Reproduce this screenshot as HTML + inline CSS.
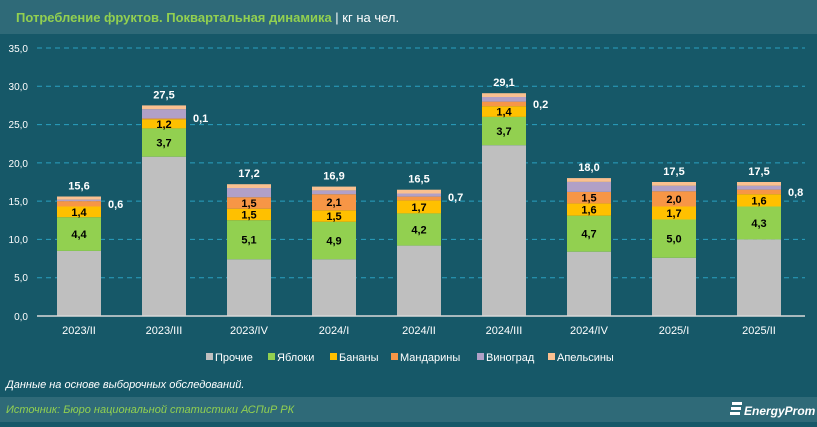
<!DOCTYPE html><html><head><meta charset="utf-8"><style>
body{margin:0;width:817px;height:422px;overflow:hidden;background:#165868;font-family:"Liberation Sans",sans-serif}
</style></head><body>
<svg width="817" height="422" xmlns="http://www.w3.org/2000/svg" font-family="Liberation Sans, sans-serif">
<rect x="0" y="0" width="817" height="34" fill="#2f6a78"/>
<text x="16" y="22" font-size="13" font-weight="bold" fill="#92d050">Потребление фруктов. Поквартальная динамика <tspan fill="#fff" font-weight="normal">| кг на чел.</tspan></text>
<rect x="0" y="397" width="817" height="25" fill="#2f6a78"/>
<g stroke="#2aa0c0" stroke-dasharray="5,4" stroke-width="1">
<line x1="37" x2="805" y1="48" y2="48"/><line x1="37" x2="805" y1="86.3" y2="86.3"/><line x1="37" x2="805" y1="124.6" y2="124.6"/><line x1="37" x2="805" y1="162.9" y2="162.9"/><line x1="37" x2="805" y1="201.1" y2="201.1"/><line x1="37" x2="805" y1="239.4" y2="239.4"/><line x1="37" x2="805" y1="277.7" y2="277.7"/>
</g>
<g font-size="10" fill="#fff" text-anchor="end">
<text x="28" y="52">35,0</text><text x="28" y="90">30,0</text><text x="28" y="128">25,0</text><text x="28" y="167">20,0</text><text x="28" y="205">15,0</text><text x="28" y="243">10,0</text><text x="28" y="281">5,0</text><text x="28" y="320">0,0</text>
</g>
<g>
<rect x="57" y="250.9" width="44" height="65.1" fill="#bfbfbf"/><rect x="57" y="217.2" width="44" height="33.7" fill="#92d050"/><rect x="57" y="206.5" width="44" height="10.7" fill="#ffc000"/><rect x="57" y="201.1" width="44" height="5.4" fill="#f79646"/><rect x="57" y="199.6" width="44" height="1.5" fill="#b1a0c7"/><rect x="57" y="196.5" width="44" height="3.1" fill="#fac090"/>
<rect x="142" y="156.7" width="44" height="159.3" fill="#bfbfbf"/><rect x="142" y="128.4" width="44" height="28.3" fill="#92d050"/><rect x="142" y="119.2" width="44" height="9.2" fill="#ffc000"/><rect x="142" y="118.4" width="44" height="0.8" fill="#f79646"/><rect x="142" y="109.2" width="44" height="9.2" fill="#b1a0c7"/><rect x="142" y="105.4" width="44" height="3.8" fill="#fac090"/>
<rect x="227" y="259.3" width="44" height="56.7" fill="#bfbfbf"/><rect x="227" y="220.2" width="44" height="39.1" fill="#92d050"/><rect x="227" y="208.7" width="44" height="11.5" fill="#ffc000"/><rect x="227" y="197.2" width="44" height="11.5" fill="#f79646"/><rect x="227" y="188" width="44" height="9.2" fill="#b1a0c7"/><rect x="227" y="184.2" width="44" height="3.8" fill="#fac090"/>
<rect x="312" y="259.3" width="44" height="56.7" fill="#bfbfbf"/><rect x="312" y="221.8" width="44" height="37.5" fill="#92d050"/><rect x="312" y="210.3" width="44" height="11.5" fill="#ffc000"/><rect x="312" y="194.2" width="44" height="16.1" fill="#f79646"/><rect x="312" y="190.4" width="44" height="3.8" fill="#b1a0c7"/><rect x="312" y="186.6" width="44" height="3.8" fill="#fac090"/>
<rect x="397" y="245.6" width="44" height="70.4" fill="#bfbfbf"/><rect x="397" y="213.4" width="44" height="32.2" fill="#92d050"/><rect x="397" y="200.4" width="44" height="13" fill="#ffc000"/><rect x="397" y="196.6" width="44" height="3.8" fill="#f79646"/><rect x="397" y="193.5" width="44" height="3.1" fill="#b1a0c7"/><rect x="397" y="189.7" width="44" height="3.8" fill="#fac090"/>
<rect x="482" y="145.2" width="44" height="170.8" fill="#bfbfbf"/><rect x="482" y="116.9" width="44" height="28.3" fill="#92d050"/><rect x="482" y="106.2" width="44" height="10.7" fill="#ffc000"/><rect x="482" y="101.6" width="44" height="4.6" fill="#f79646"/><rect x="482" y="97" width="44" height="4.6" fill="#b1a0c7"/><rect x="482" y="93.2" width="44" height="3.8" fill="#fac090"/>
<rect x="567" y="251.7" width="44" height="64.3" fill="#bfbfbf"/><rect x="567" y="215.7" width="44" height="36" fill="#92d050"/><rect x="567" y="203.4" width="44" height="12.3" fill="#ffc000"/><rect x="567" y="191.9" width="44" height="11.5" fill="#f79646"/><rect x="567" y="181.9" width="44" height="10" fill="#b1a0c7"/><rect x="567" y="178.1" width="44" height="3.8" fill="#fac090"/>
<rect x="652" y="257.8" width="44" height="58.2" fill="#bfbfbf"/><rect x="652" y="219.5" width="44" height="38.3" fill="#92d050"/><rect x="652" y="206.5" width="44" height="13" fill="#ffc000"/><rect x="652" y="191.2" width="44" height="15.3" fill="#f79646"/><rect x="652" y="185.8" width="44" height="5.4" fill="#b1a0c7"/><rect x="652" y="182" width="44" height="3.8" fill="#fac090"/>
<rect x="737" y="239.4" width="44" height="76.6" fill="#bfbfbf"/><rect x="737" y="206.5" width="44" height="32.9" fill="#92d050"/><rect x="737" y="194.2" width="44" height="12.3" fill="#ffc000"/><rect x="737" y="189.6" width="44" height="4.6" fill="#f79646"/><rect x="737" y="185.8" width="44" height="3.8" fill="#b1a0c7"/><rect x="737" y="182" width="44" height="3.8" fill="#fac090"/>
</g>
<line x1="37" x2="805" y1="316" y2="316" stroke="#d9d9d9" stroke-width="1.5"/>
<g font-size="11" font-weight="bold" text-anchor="middle" fill="#000">
<text x="79" y="238">4,4</text><text x="79" y="216">1,4</text>
<text x="164" y="146.6">3,7</text><text x="164" y="127.8">1,2</text>
<text x="249" y="243.7">5,1</text><text x="249" y="218.4">1,5</text><text x="249" y="206.9">1,5</text>
<text x="334" y="244.5">4,9</text><text x="334" y="220">1,5</text><text x="334" y="206.2">2,1</text>
<text x="419" y="233.5">4,2</text><text x="419" y="210.9">1,7</text>
<text x="504" y="135.1">3,7</text><text x="504" y="115.6">1,4</text>
<text x="589" y="237.7">4,7</text><text x="589" y="213.5">1,6</text><text x="589" y="201.6">1,5</text>
<text x="674" y="242.6">5,0</text><text x="674" y="217">1,7</text><text x="674" y="202.8">2,0</text>
<text x="759" y="227">4,3</text><text x="759" y="204.3">1,6</text>
</g>
<g font-size="11" font-weight="bold" text-anchor="middle" fill="#fff">
<text x="79" y="189.5">15,6</text><text x="164" y="98.4">27,5</text><text x="249" y="177.2">17,2</text><text x="334" y="179.6">16,9</text><text x="419" y="182.7">16,5</text><text x="504" y="86.2">29,1</text><text x="589" y="171.1">18,0</text><text x="674" y="175">17,5</text><text x="759" y="175">17,5</text>
</g>
<g font-size="11" font-weight="bold" fill="#fff">
<text x="108" y="208">0,6</text><text x="193" y="122">0,1</text><text x="448" y="201">0,7</text><text x="533" y="108">0,2</text><text x="788" y="196">0,8</text>
</g>
<g font-size="11" text-anchor="middle" fill="#fff">
<text x="79" y="334">2023/II</text><text x="164" y="334">2023/III</text><text x="249" y="334">2023/IV</text><text x="334" y="334">2024/I</text><text x="419" y="334">2024/II</text><text x="504" y="334">2024/III</text><text x="589" y="334">2024/IV</text><text x="674" y="334">2025/I</text><text x="759" y="334">2025/II</text>
</g>
<g font-size="11" fill="#fff">
<rect x="206" y="353" width="7" height="7" fill="#bfbfbf"/><text x="215" y="361">Прочие</text>
<rect x="268" y="353" width="7" height="7" fill="#92d050"/><text x="277" y="361">Яблоки</text>
<rect x="330" y="353" width="7" height="7" fill="#ffc000"/><text x="339" y="361">Бананы</text>
<rect x="391" y="353" width="7" height="7" fill="#f79646"/><text x="400" y="361">Мандарины</text>
<rect x="477" y="353" width="7" height="7" fill="#b1a0c7"/><text x="486" y="361">Виноград</text>
<rect x="548" y="353" width="7" height="7" fill="#fac090"/><text x="557" y="361">Апельсины</text>
</g>
<text x="6" y="388" font-size="11" font-style="italic" fill="#fff">Данные на основе выборочных обследований.</text>
<text x="6" y="413" font-size="11" font-style="italic" fill="#92d050">Источник: Бюро национальной статистики АСПиР РК</text>
<g fill="#fff"><rect x="732" y="402" width="10" height="3"/><rect x="731" y="407" width="10" height="3"/><rect x="730" y="412" width="10" height="3"/></g>
<text x="744" y="415" font-size="12" font-style="italic" font-weight="bold" fill="#fff">EnergyProm</text>
</svg></body></html>
